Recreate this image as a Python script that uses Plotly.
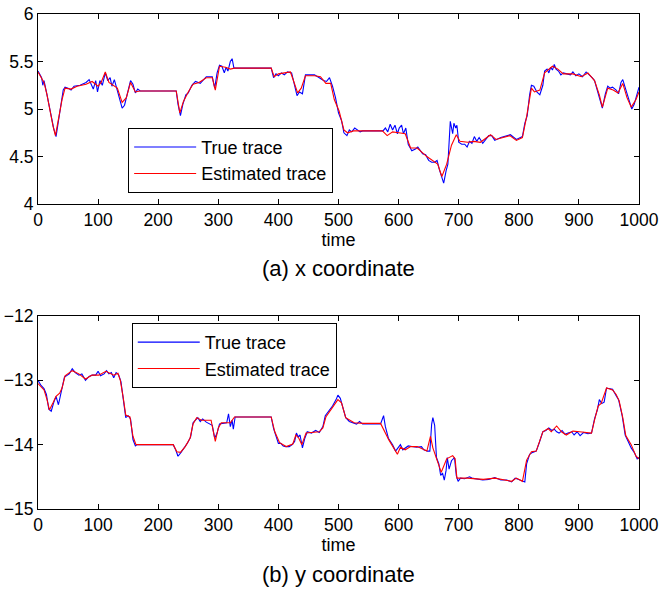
import plotly.graph_objects as go

# ---------------- data: (a) x coordinate ----------------
tx_true = [0,3,6,8,10,14,18,22,26,30,34,38,42,45,50,55,60,70,80,85,88,92,96,99,103,107,112,116,120,123,127,131,136,140,144,150,154,158,162,166,170,230,233,237,241,246,250,256,262,270,280,290,294,298,302,306,310,313,316,320,323,326,388,392,396,400,405,410,415,422,427,431,435,440,445,455,460,468,475,480,485,490,495,500,505,509,514,518,522,527,532,536,540,560,574,578,582,586,590,594,598,601,605,608,612,616,622,628,632,640,645,650,655,660,664,668,672,675,679,682,686,690,692,695,697,700,705,710,714,718,722,726,730,734,740,750,755,760,770,780,786,796,806,810,814,818,821,825,830,835,840,843,847,850,853,856,859,862,866,870,874,880,886,890,895,900,906,912,916,922,926,930,935,939,944,948,952,956,962,966,970,973,978,984,988,992,996,1000]
x_true = [5.40,5.37,5.33,5.25,5.30,5.18,5.05,4.90,4.80,4.71,4.88,5.05,5.20,5.23,5.22,5.20,5.24,5.25,5.28,5.31,5.27,5.21,5.30,5.18,5.30,5.25,5.38,5.30,5.33,5.24,5.31,5.22,5.10,5.01,5.04,5.20,5.30,5.26,5.17,5.21,5.19,5.19,5.05,4.93,5.05,5.15,5.17,5.25,5.29,5.27,5.34,5.34,5.22,5.38,5.46,5.45,5.38,5.44,5.40,5.50,5.53,5.43,5.43,5.33,5.37,5.35,5.38,5.36,5.39,5.38,5.24,5.14,5.18,5.16,5.36,5.36,5.36,5.33,5.30,5.29,5.33,5.24,5.12,4.96,4.88,4.75,4.72,4.78,4.76,4.80,4.78,4.76,4.77,4.77,4.77,4.80,4.76,4.84,4.78,4.83,4.74,4.80,4.83,4.74,4.80,4.63,4.56,4.58,4.60,4.53,4.52,4.46,4.44,4.44,4.46,4.36,4.27,4.22,4.35,4.42,4.87,4.74,4.85,4.80,4.83,4.65,4.63,4.63,4.60,4.66,4.64,4.71,4.66,4.70,4.64,4.72,4.72,4.67,4.70,4.72,4.73,4.68,4.71,4.85,4.93,5.15,5.25,5.24,5.18,5.15,5.25,5.40,5.42,5.38,5.44,5.41,5.47,5.42,5.40,5.36,5.38,5.37,5.36,5.39,5.35,5.37,5.34,5.39,5.37,5.33,5.30,5.22,5.10,5.01,5.16,5.24,5.22,5.23,5.20,5.16,5.28,5.31,5.20,5.07,5.00,5.05,5.15,5.23]

tx_est = [0,5,10,15,20,25,29,35,40,45,55,65,80,90,100,105,112,118,125,132,140,147,154,162,170,230,236,242,250,258,268,280,290,295,302,312,320,327,388,393,400,410,420,425,432,438,445,460,470,479,487,493,501,509,515,525,573,581,590,600,611,620,631,647,658,665,672,680,688,696,702,715,725,736,753,762,785,796,806,813,821,826,835,843,856,865,874,890,904,915,926,934,939,948,957,965,973,980,987,995,1000]
x_est = [5.39,5.33,5.28,5.15,4.98,4.82,4.72,4.92,5.10,5.22,5.21,5.24,5.26,5.29,5.24,5.28,5.39,5.28,5.25,5.22,5.07,5.12,5.28,5.18,5.19,5.19,4.96,5.08,5.18,5.26,5.28,5.33,5.33,5.20,5.45,5.44,5.42,5.43,5.43,5.34,5.37,5.38,5.39,5.30,5.17,5.22,5.35,5.35,5.34,5.27,5.27,5.10,4.98,4.78,4.75,4.77,4.77,4.72,4.76,4.75,4.74,4.59,4.59,4.50,4.45,4.42,4.29,4.42,4.62,4.73,4.66,4.65,4.66,4.65,4.73,4.68,4.72,4.67,4.70,4.92,5.22,5.18,5.20,5.38,5.45,5.42,5.37,5.37,5.34,5.38,5.30,5.15,5.02,5.22,5.20,5.17,5.27,5.12,5.02,5.10,5.18]

# ---------------- data: (b) y coordinate ----------------
ty_true = [0,5,10,14,18,22,26,30,34,37,40,44,48,52,57,62,68,73,79,85,90,96,100,104,110,114,118,122,126,130,134,138,142,146,150,154,158,162,165,225,229,233,238,243,249,254,258,262,266,270,274,280,286,290,294,298,302,308,314,317,320,323,325,328,388,392,396,400,404,408,412,418,423,427,430,433,436,440,444,448,455,462,468,474,478,484,490,496,499,503,507,512,518,523,530,535,540,570,573,575,578,583,590,595,599,603,607,611,616,622,630,638,642,648,652,655,657,660,663,667,670,673,676,679,681,684,688,693,696,699,703,710,718,722,728,740,750,760,770,780,788,794,800,806,810,813,818,823,829,834,840,845,850,855,859,863,867,872,877,882,888,892,897,902,908,915,921,926,931,934,938,942,946,952,956,962,966,972,977,982,987,992,997,1000]
y_true = [-13.00,-13.08,-13.13,-13.22,-13.45,-13.48,-13.35,-13.25,-13.38,-13.22,-13.12,-12.95,-12.92,-12.90,-12.82,-12.88,-12.92,-12.90,-13.00,-12.94,-12.92,-12.92,-12.86,-12.93,-12.90,-12.85,-12.90,-12.88,-12.96,-12.88,-12.91,-13.02,-13.30,-13.58,-13.55,-13.60,-13.92,-14.02,-14.00,-14.00,-14.08,-14.18,-14.12,-14.06,-13.97,-13.88,-13.66,-13.62,-13.58,-13.64,-13.60,-13.65,-13.68,-13.70,-13.90,-13.82,-13.68,-13.67,-13.66,-13.52,-13.72,-13.62,-13.76,-13.57,-13.57,-13.75,-13.88,-13.98,-13.98,-14.02,-14.03,-14.03,-14.00,-13.95,-13.82,-13.88,-13.85,-14.05,-13.90,-13.80,-13.82,-13.78,-13.81,-13.72,-13.55,-13.48,-13.40,-13.30,-13.23,-13.28,-13.42,-13.58,-13.64,-13.66,-13.68,-13.64,-13.68,-13.68,-13.58,-13.55,-13.72,-13.90,-14.00,-14.10,-14.05,-14.00,-14.08,-14.05,-14.02,-14.03,-14.04,-14.03,-14.08,-14.10,-14.10,-13.68,-13.58,-13.70,-14.20,-14.30,-14.48,-14.44,-14.55,-14.40,-14.20,-14.38,-14.25,-14.20,-14.48,-14.57,-14.52,-14.53,-14.50,-14.52,-14.53,-14.55,-14.54,-14.51,-14.55,-14.55,-14.58,-14.52,-14.54,-14.57,-14.58,-14.30,-14.15,-14.12,-14.10,-13.97,-13.80,-13.78,-13.74,-13.78,-13.76,-13.80,-13.82,-13.78,-13.84,-13.82,-13.80,-13.85,-13.80,-13.86,-13.81,-13.83,-13.82,-13.60,-13.45,-13.30,-13.36,-13.34,-13.12,-13.13,-13.14,-13.24,-13.30,-13.55,-13.85,-13.95,-14.05,-14.12,-14.22,-14.20]

ty_est = [0,10,15,19,25,30,36,40,45,57,68,79,90,101,113,126,133,137,142,146,153,158,163,225,231,237,245,253,258,264,272,288,295,300,305,320,327,388,394,402,413,424,429,434,439,446,468,474,479,490,499,505,512,526,542,570,584,598,603,611,620,631,639,647,653,657,664,671,680,690,694,697,714,741,760,774,788,796,806,813,821,829,834,840,849,854,863,871,879,890,901,921,926,932,937,946,956,962,967,973,978,987,995,1000]
y_est = [-13.05,-13.15,-13.30,-13.46,-13.35,-13.25,-13.20,-13.12,-12.93,-12.85,-12.90,-12.98,-12.92,-12.92,-12.86,-12.92,-12.89,-13.00,-13.28,-13.54,-13.57,-13.87,-14.00,-14.00,-14.11,-14.12,-14.03,-13.90,-13.68,-13.58,-13.62,-13.62,-13.95,-13.74,-13.66,-13.66,-13.57,-13.57,-13.80,-13.97,-14.03,-13.99,-13.85,-13.90,-14.00,-13.82,-13.80,-13.74,-13.57,-13.42,-13.30,-13.35,-13.58,-13.66,-13.67,-13.67,-13.93,-14.15,-14.04,-14.08,-14.03,-14.03,-14.07,-14.10,-13.87,-14.05,-14.24,-14.43,-14.22,-14.17,-14.22,-14.52,-14.52,-14.54,-14.52,-14.55,-14.57,-14.52,-14.57,-14.24,-14.11,-14.10,-13.97,-13.80,-13.75,-13.80,-13.71,-13.80,-13.85,-13.79,-13.80,-13.82,-13.62,-13.40,-13.36,-13.12,-13.15,-13.22,-13.32,-13.58,-13.86,-14.00,-14.18,-14.22]

series_names = ["True trace", "Estimated trace"]
x_ticks = [0, 100, 200, 300, 400, 500, 600, 700, 800, 900, 1000]
captions = ["(a) x coordinate", "(b) y coordinate"]

BLUE = "#0000ff"
RED = "#ff0000"
FONT = "Liberation Sans, Arial, Helvetica, sans-serif"

fig = go.Figure()
fig.add_trace(go.Scatter(x=tx_true, y=x_true, mode="lines", name=series_names[0],
                         line=dict(color=BLUE, width=1.1), xaxis="x", yaxis="y", legend="legend"))
fig.add_trace(go.Scatter(x=tx_est, y=x_est, mode="lines", name=series_names[1],
                         line=dict(color=RED, width=1.1), xaxis="x", yaxis="y", legend="legend"))
fig.add_trace(go.Scatter(x=ty_true, y=y_true, mode="lines", name=series_names[0],
                         line=dict(color=BLUE, width=1.1), xaxis="x2", yaxis="y2", legend="legend2"))
fig.add_trace(go.Scatter(x=ty_est, y=y_est, mode="lines", name=series_names[1],
                         line=dict(color=RED, width=1.1), xaxis="x2", yaxis="y2", legend="legend2"))

axis_common = dict(showline=True, linecolor="black", linewidth=1, mirror="ticks",
                   ticks="inside", ticklen=5, tickcolor="black", showgrid=False,
                   zeroline=False, automargin=False, ticklabeloverflow="allow",
                   tickfont=dict(family=FONT, size=17.5, color="black"))

legend_common = dict(xanchor="left", yanchor="top", bgcolor="white",
                     bordercolor="black", borderwidth=1, font=dict(family=FONT, size=18),
                     tracegroupgap=2, itemwidth=62)

fig.update_layout(
    width=660, height=590,
    margin=dict(l=38, r=21, t=14, b=81),
    paper_bgcolor="white", plot_bgcolor="white",
    font=dict(family=FONT, size=18, color="black"),
    xaxis=dict(domain=[0, 1], range=[0, 1000], tickvals=x_ticks, anchor="y",
               title=dict(text="time", standoff=2, font=dict(size=18)), **axis_common),
    yaxis=dict(domain=[0.616, 1], range=[4, 6], dtick=0.5, anchor="x", **axis_common),
    xaxis2=dict(domain=[0, 1], range=[0, 1000], tickvals=x_ticks, anchor="y2",
                title=dict(text="time", standoff=0, font=dict(size=18)), **axis_common),
    yaxis2=dict(domain=[0, 0.39], range=[-15, -12], dtick=1, anchor="x2", **axis_common),
    legend=dict(x=0.150, y=0.770, **legend_common),
    legend2=dict(x=0.156, y=0.376, **legend_common),
    annotations=[
        dict(text=captions[0], x=0.5, y=0.485, xref="paper", yref="paper",
             showarrow=False, xanchor="center", yanchor="middle",
             font=dict(family=FONT, size=22, color="black")),
        dict(text=captions[1], x=0.5, y=-0.133, xref="paper", yref="paper",
             showarrow=False, xanchor="center", yanchor="middle",
             font=dict(family=FONT, size=22, color="black")),
    ],
)

fig.write_html("out.html")
